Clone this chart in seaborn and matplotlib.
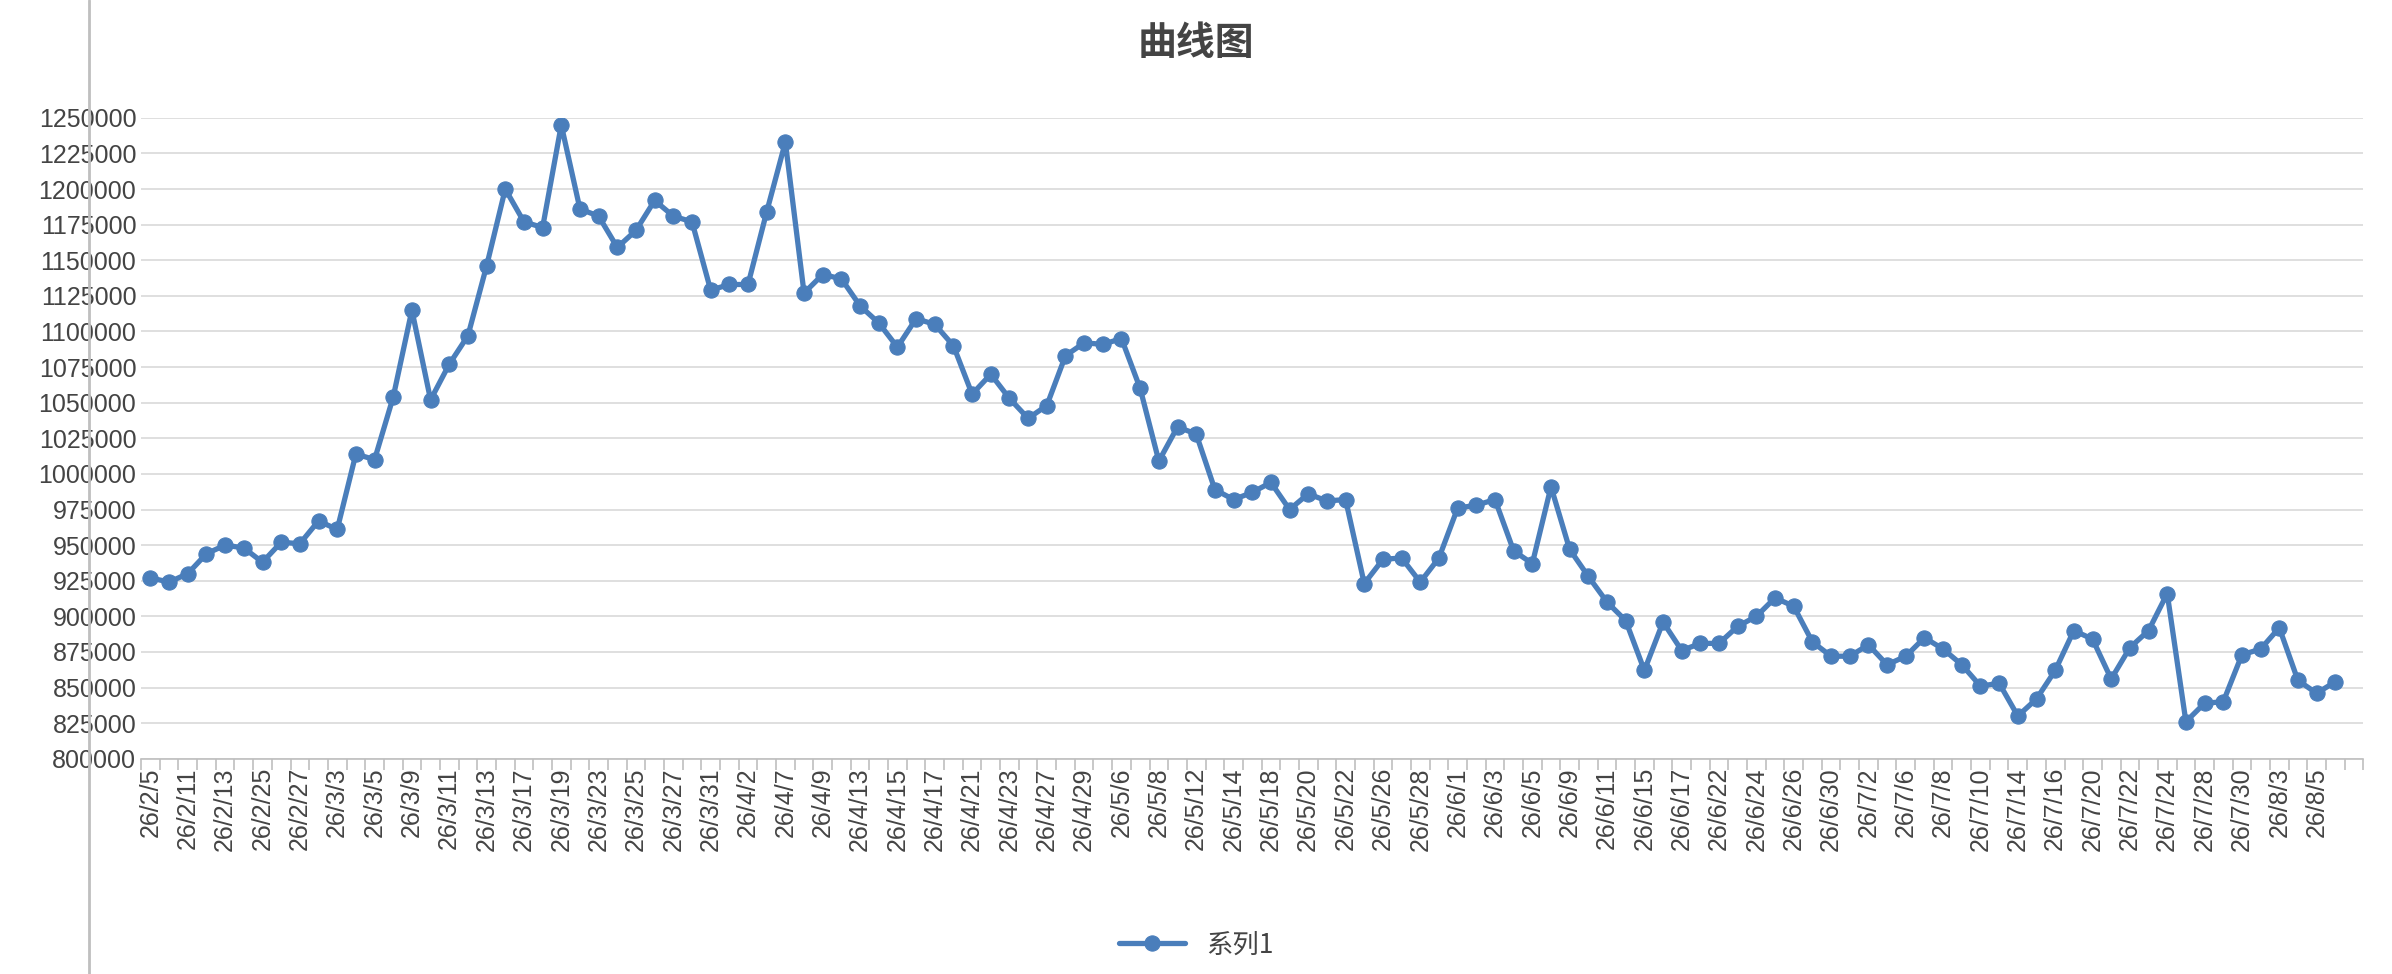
import matplotlib
matplotlib.use('Agg')
import matplotlib.pyplot as plt
import seaborn as sns
import pandas as pd
import numpy as np

# labelled dates (every second point carries a label)
tick_labels = ["26/2/5", "26/2/11", "26/2/13", "26/2/25", "26/2/27", "26/3/3", "26/3/5", "26/3/9",
               "26/3/11", "26/3/13", "26/3/17", "26/3/19", "26/3/23", "26/3/25", "26/3/27", "26/3/31",
               "26/4/2", "26/4/7", "26/4/9", "26/4/13", "26/4/15", "26/4/17", "26/4/21", "26/4/23",
               "26/4/27", "26/4/29", "26/5/6", "26/5/8", "26/5/12", "26/5/14", "26/5/18", "26/5/20",
               "26/5/22", "26/5/26", "26/5/28", "26/6/1", "26/6/3", "26/6/5", "26/6/9", "26/6/11",
               "26/6/15", "26/6/17", "26/6/22", "26/6/24", "26/6/26", "26/6/30", "26/7/2", "26/7/6",
               "26/7/8", "26/7/10", "26/7/14", "26/7/16", "26/7/20", "26/7/22", "26/7/24", "26/7/28",
               "26/7/30", "26/8/3", "26/8/5"]

values = [927000, 924000, 930000, 944000, 950000, 948000, 938000, 952000, 951000, 967000,
          961000, 1014000, 1010000, 1054000, 1115000, 1052000, 1077000, 1097000, 1146000, 1200000,
          1177000, 1173000, 1245000, 1186000, 1181000, 1159000, 1171000, 1192000, 1181000, 1177000,
          1129000, 1133000, 1133000, 1184000, 1233000, 1127000, 1140000, 1137000, 1118000, 1106000,
          1089000, 1109000, 1105000, 1090000, 1056000, 1070000, 1053000, 1039000, 1048000, 1083000,
          1092000, 1091000, 1095000, 1060000, 1009000, 1033000, 1028000, 989000, 982000, 987000,
          994000, 975000, 986000, 981000, 982000, 923000, 940000, 941000, 924000, 941000,
          976000, 978000, 982000, 946000, 937000, 991000, 947000, 928000, 910000, 897000,
          862000, 896000, 876000, 881000, 881000, 893000, 900000, 913000, 907000, 882000,
          872000, 872000, 880000, 866000, 872000, 885000, 877000, 866000, 851000, 853000,
          830000, 842000, 862000, 890000, 884000, 856000, 878000, 890000, 916000, 826000,
          839000, 840000, 873000, 877000, 892000, 855000, 846000, 854000]

sns.set_style("white")
plt.rcParams['font.family'] = ['Liberation Sans', 'Noto Sans CJK SC', 'DejaVu Sans']

df = pd.DataFrame({"idx": np.arange(len(values)), "value": values})

fig = plt.figure(figsize=(23.92, 9.74), dpi=100)
ax = fig.add_axes([0.059, 0.221, 0.929, 0.658])
color = "#4a7ebb"
sns.lineplot(data=df, x="idx", y="value", ax=ax, color=color, linewidth=3.8,
             marker="o", markersize=11, markeredgecolor=color, label="系列1")

ax.set_ylim(800000, 1250000)
ax.set_yticks(np.arange(800000, 1250001, 25000))
ax.set_yticklabels([str(v) for v in range(800000, 1250001, 25000)], fontsize=18, color="#444444")
ax.yaxis.grid(True, color="#d9d9d9", linewidth=1.2)
ax.set_xlim(-0.5, len(values) + 0.5)
ax.set_xticks(np.arange(0, len(values), 2))
ax.set_xticklabels(tick_labels, rotation=90, fontsize=18, color="#444444")
ax.set_xticks(np.arange(-0.5, len(values) + 1, 1), minor=True)
ax.tick_params(axis='x', which='minor', length=8, color="#bfbfbf", width=1.2, bottom=True)
ax.tick_params(axis='x', which='major', length=0, pad=6)
ax.tick_params(axis='y', length=0)
ax.set_xlabel("")
ax.set_ylabel("")
for s in ["top", "right", "left"]:
    ax.spines[s].set_visible(False)
ax.spines["bottom"].set_color("#bfbfbf")
ax.spines["bottom"].set_linewidth(1.2)

fig.text(0.5, 0.955, "曲线图", ha="center", va="center", fontsize=28, color="#444444",
         fontweight="bold", family=['Noto Sans CJK SC', 'DejaVu Sans'])
fig.add_artist(plt.Line2D([0.037, 0.037], [0, 1], color="#bfbfbf", linewidth=2))

handles, labels = ax.get_legend_handles_labels()
ax.get_legend().remove()
fig.legend(handles, labels, loc="center", bbox_to_anchor=(0.5, 0.03), frameon=False,
           fontsize=19, labelcolor="#444444", handlelength=2.5,
           prop={'family': ['Noto Sans CJK SC', 'DejaVu Sans'], 'size': 19})

fig.savefig("out.png", dpi=100)
